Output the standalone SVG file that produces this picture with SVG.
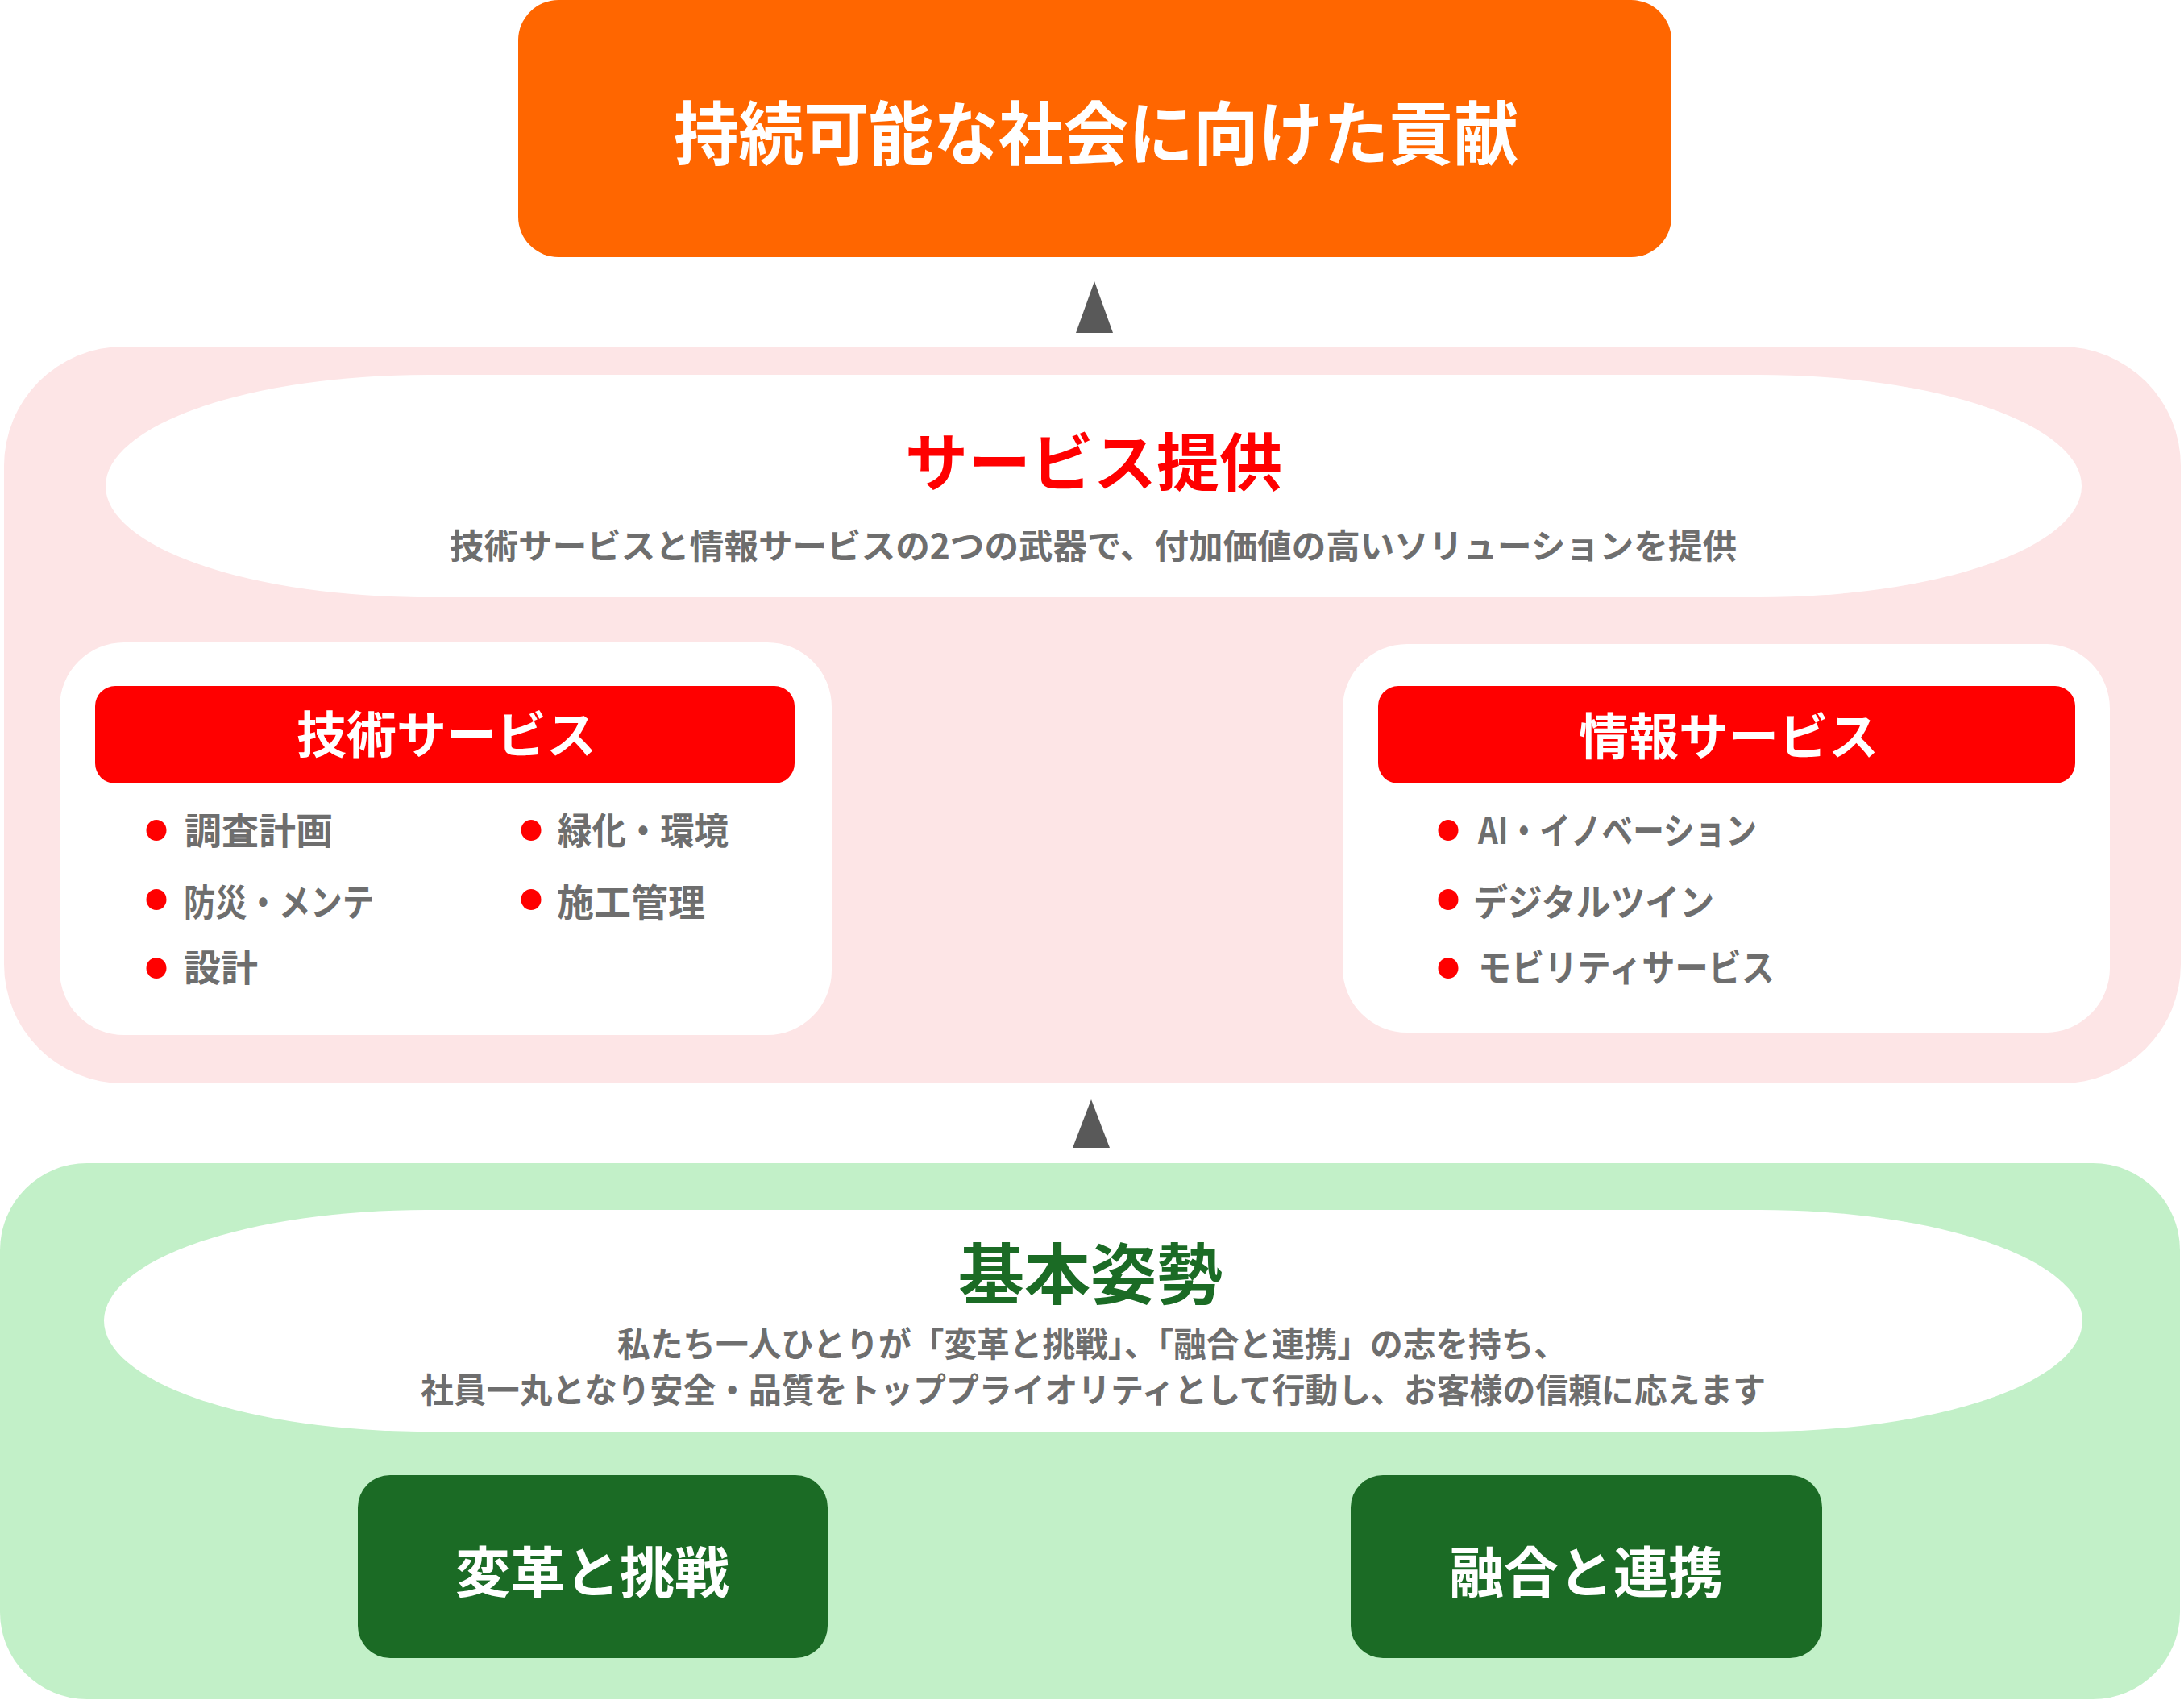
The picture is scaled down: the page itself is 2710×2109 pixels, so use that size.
<svg xmlns="http://www.w3.org/2000/svg" width="2710" height="2109" viewBox="0 0 2710 2109">
<style>
text{font-family:"Noto Sans CJK JP","Noto Sans",sans-serif;font-weight:700}
.w{fill:#FFFFFF}
.g{fill:#6E6E6E}
.red{fill:#FF0000}
.dot{fill:#FF0000}
.arrow{fill:#595959}
.mid{text-anchor:middle}
.b{font-size:46px}
.s{font-size:42px}
</style>
<rect width="2710" height="2109" fill="#FFFFFF"/>
<g id="goal">
<rect x="643" y="0" width="1431" height="319" rx="50" fill="#FF6600"/>
<text class="w" x="836" y="198" font-size="86" textLength="1048" lengthAdjust="spacingAndGlyphs">持続可能な社会に向けた貢献</text>
</g>
<g id="service">
<rect x="5" y="430" width="2701" height="914" rx="148" fill="#FDE5E6"/>
<rect x="131" y="465" width="2452" height="276" rx="400" ry="138" fill="#FFFFFF"/>
<text class="red mid" x="1357" y="603" font-size="78">サービス提供</text>
<text class="g s" x="558" y="693" textLength="1597" lengthAdjust="spacingAndGlyphs">技術サービスと情報サービスの2つの武器で、付加価値の高いソリューションを提供</text>
</g>
<g id="tech">
<rect x="74" y="797" width="958" height="487" rx="80" fill="#FFFFFF"/>
<rect x="118" y="851" width="868" height="121" rx="25" class="red"/>
<text class="w mid" x="554" y="935" font-size="62">技術サービス</text>
<ellipse class="dot" cx="194" cy="1030" rx="12.5" ry="13"/>
<text class="g b" x="229" y="1047">調査計画</text>
<ellipse class="dot" cx="194" cy="1116" rx="12.5" ry="13"/>
<text class="g b" x="228" y="1136" textLength="236" lengthAdjust="spacingAndGlyphs">防災・メンテ</text>
<ellipse class="dot" cx="194" cy="1201" rx="12.5" ry="13"/>
<text class="g b" x="228" y="1217">設計</text>
<ellipse class="dot" cx="659" cy="1030" rx="12.5" ry="13"/>
<text class="g b" x="692" y="1047" textLength="212" lengthAdjust="spacingAndGlyphs">緑化・環境</text>
<ellipse class="dot" cx="659" cy="1116" rx="12.5" ry="13"/>
<text class="g b" x="691" y="1136">施工管理</text>
</g>
<g id="info">
<rect x="1666" y="799" width="952" height="482" rx="80" fill="#FFFFFF"/>
<rect x="1710" y="851" width="865" height="121" rx="25" class="red"/>
<text class="w mid" x="2145" y="937" font-size="62">情報サービス</text>
<ellipse class="dot" cx="1797" cy="1030" rx="12.5" ry="13"/>
<text class="g b" x="1834" y="1047" textLength="346" lengthAdjust="spacingAndGlyphs">AI・イノベーション</text>
<ellipse class="dot" cx="1797" cy="1116" rx="12.5" ry="13"/>
<text class="g b" x="1828" y="1136" textLength="299" lengthAdjust="spacingAndGlyphs">デジタルツイン</text>
<ellipse class="dot" cx="1797" cy="1201" rx="12.5" ry="13"/>
<text class="g b" x="1834" y="1217" textLength="368" lengthAdjust="spacingAndGlyphs">モビリティサービス</text>
</g>
<g id="stance">
<rect x="0" y="1443" width="2705" height="665" rx="108" fill="#C2F0C8"/>
<rect x="129" y="1501" width="2455" height="275" rx="400" ry="137.5" fill="#FFFFFF"/>
<text class="mid" x="1353" y="1611" font-size="82" fill="#1B6B25">基本姿勢</text>
<text class="g s" x="766" y="1683" textLength="1178" lengthAdjust="spacingAndGlyphs">私たち一人ひとりが「変革と挑戦」、「融合と連携」の志を持ち、</text>
<text class="g s" x="522" y="1740" textLength="1669" lengthAdjust="spacingAndGlyphs">社員一丸となり安全・品質をトッププライオリティとして行動し、お客様の信頼に応えます</text>
</g>
<g id="challenge">
<rect x="444" y="1830" width="583" height="227" rx="40" fill="#1B6B25"/>
<text class="w mid" x="735" y="1976" font-size="68">変革と挑戦</text>
</g>
<g id="collaboration">
<rect x="1676" y="1830" width="585" height="227" rx="40" fill="#1B6B25"/>
<text class="w mid" x="1968" y="1976" font-size="68">融合と連携</text>
</g>
<g id="connectors">
<polygon class="arrow" points="1358,349 1335,413 1381,413"/>
<polygon class="arrow" points="1354,1364 1331,1424 1377,1424"/>
</g>
</svg>
